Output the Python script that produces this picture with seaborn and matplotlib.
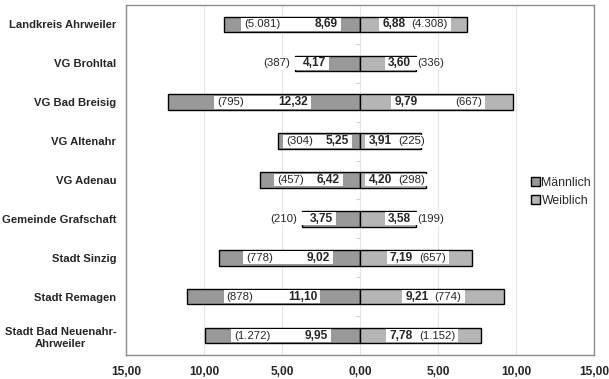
import matplotlib
matplotlib.use("Agg")
import matplotlib.pyplot as plt
import numpy as np
import pandas as pd
import seaborn as sns

# Daten
regionen = ["Landkreis Ahrweiler", "VG Brohltal", "VG Bad Breisig", "VG Altenahr",
            "VG Adenau", "Gemeinde Grafschaft", "Stadt Sinzig", "Stadt Remagen",
            "Stadt Bad Neuenahr-\nAhrweiler"]
maennlich = [8.69, 4.17, 12.32, 5.25, 6.42, 3.75, 9.02, 11.10, 9.95]
weiblich = [6.88, 3.60, 9.79, 3.91, 4.20, 3.58, 7.19, 9.21, 7.78]
maennlich_n = ["5.081", "387", "795", "304", "457", "210", "778", "878", "1.272"]
weiblich_n = ["4.308", "336", "667", "225", "298", "199", "657", "774", "1.152"]
x_ticks = [-15, -10, -5, 0, 5, 10, 15]

sns.set_style("white")
plt.rcParams['font.family'] = ['Liberation Sans', 'DejaVu Sans']

df = pd.DataFrame({
    "region": regionen * 2,
    "wert": [-v for v in maennlich] + weiblich,
    "geschlecht": ["Männlich"] * len(regionen) + ["Weiblich"] * len(regionen),
})

fig = plt.figure(figsize=(6.09, 3.79), dpi=100)
ax = fig.add_axes([126 / 609, 1 - 355 / 379, 468 / 609, 350 / 379])

sns.barplot(data=df, x="wert", y="region", hue="geschlecht", order=regionen,
            hue_order=["Männlich", "Weiblich"],
            palette={"Männlich": "#999999", "Weiblich": "#b5b5b5"},
            dodge=False, width=0.4, edgecolor="black", linewidth=1.0,
            ax=ax, zorder=2)

ax.set_xlim(-15, 15)
ax.set_ylim(len(regionen) - 0.5, -0.5)
ax.set_xticks(x_ticks)
ax.set_xticklabels([f"{abs(t):.2f}".replace(".", ",") for t in x_ticks],
                   fontweight="bold", fontsize=8.6)
ax.set_xlabel("")
ax.set_ylabel("")
ax.tick_params(axis="both", length=0)
ax.tick_params(axis="x", pad=8)
ax.tick_params(axis="y", pad=7)
for lab in ax.get_yticklabels():
    lab.set_fontweight("bold")
    lab.set_fontsize(8.1)
    lab.set_multialignment("center")
    lab.set_linespacing(1.35)

ax.set_axisbelow(True)
ax.grid(axis="x", color="#e6e6e6", lw=0.8)
ax.grid(axis="y", visible=False)
for sp in ax.spines.values():
    sp.set_color("#8c8c8c")
    sp.set_linewidth(1.0)

# kleine Striche an der Nullachse zwischen den Kategorien
ax.hlines(np.arange(0.5, len(regionen) - 0.5, 1), -0.25, 0, colors="#d0d0d0",
          lw=0.8, zorder=1)

# Legende
handles, labels = ax.get_legend_handles_labels()
ax.legend(handles, labels, loc="center left", bbox_to_anchor=(0.842, 0.466),
          frameon=False, fontsize=8.8, handlelength=0.7, handleheight=0.7,
          handletextpad=0.15, labelspacing=0.5)

# Beschriftungen: (Anzahl) und Wert mit weißem Kasten
fig.canvas.draw()
renderer = fig.canvas.get_renderer()
px_per_unit = ax.transData.transform((1, 0))[0] - ax.transData.transform((0, 0))[0]
pad = 3 / px_per_unit
abstand_null = 0.35  # Kasten hält etwas Abstand zur Nulllinie


def beschriften(i, wert, anzahl, seite):
    t_wert = ax.text(0, i, f"{wert:.2f}".replace(".", ","), fontweight="bold",
                     fontsize=8.6, va="center", zorder=5)
    t_anz = ax.text(0, i, f"({anzahl})", fontsize=8.2, va="center", zorder=5)
    w_wert = t_wert.get_window_extent(renderer).width / px_per_unit
    w_anz = t_anz.get_window_extent(renderer).width / px_per_unit
    if seite < 0:
        luecke = 2.2 if wert >= 8 else 0.8
    else:
        luecke = 2.4 if wert >= 9.5 else 0.4
    breite = w_wert + w_anz + luecke
    # passt der Text nicht in den Balken, wird er am Balkenende zentriert
    if breite > 0.94 * wert:
        mitte = seite * wert
    else:
        mitte = seite * max(wert / 2 + 0.1, breite / 2 + pad + abstand_null)
    links = mitte - breite / 2
    rechts = mitte + breite / 2
    if seite < 0:
        t_anz.set_x(links)
        t_anz.set_ha("left")
        t_wert.set_x(rechts)
        t_wert.set_ha("right")
    else:
        t_wert.set_x(links)
        t_wert.set_ha("left")
        t_anz.set_x(rechts)
        t_anz.set_ha("right")
    ax.barh(i, breite + 2 * pad, left=links - pad, height=0.33, color="white",
            linewidth=0, zorder=3)


for i in range(len(regionen)):
    beschriften(i, maennlich[i], maennlich_n[i], -1)
    beschriften(i, weiblich[i], weiblich_n[i], 1)

fig.savefig("out.png", dpi=100)
